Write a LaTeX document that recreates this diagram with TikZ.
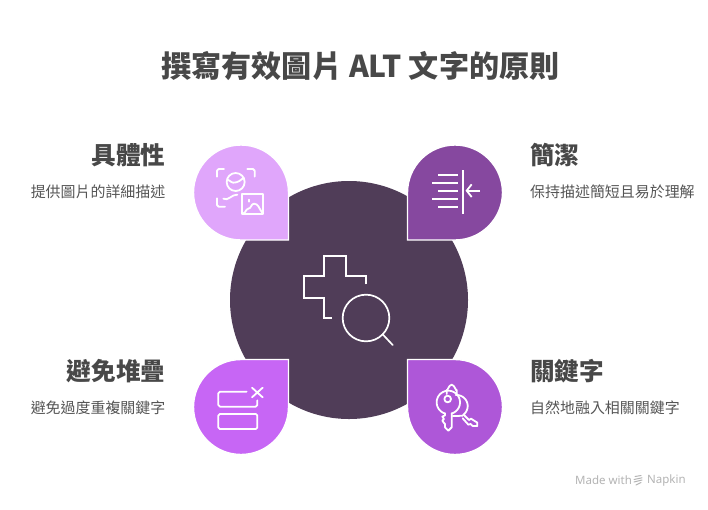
\documentclass[tikz,border=0pt]{standalone}
\usepackage{fontspec}
\setmainfont{Noto Sans CJK TC}
\newfontfamily\latinsans{Noto Sans}
\definecolor{hub}{HTML}{503D58}
\definecolor{dropa}{HTML}{E0A6FB}
\definecolor{dropb}{HTML}{86489F}
\definecolor{dropc}{HTML}{C766F5}
\definecolor{dropd}{HTML}{AE57D8}
\definecolor{headink}{HTML}{484848}
\definecolor{subink}{HTML}{555555}
\definecolor{markink}{HTML}{B4B4B4}
\tikzset{
  titletext/.style={font=\fontsize{30.1}{32}\selectfont\bfseries, text=headink, inner sep=0pt},
  headtext/.style={font=\fontsize{24.6}{28}\selectfont\bfseries, text=headink, inner sep=0pt},
  subtext/.style={font=\fontsize{14.95}{18}\selectfont, text=subink, inner sep=0pt},
  marktext/.style={font=\latinsans\fontsize{11.5}{14}\selectfont, text=markink, inner sep=0pt},
  icon/.style={draw=white, line width=1.8pt, line cap=round, line join=round},
  thinicon/.style={draw=white, line width=1.7pt},
  zoomed/.style={x=0.33333pt, y=-0.33333pt},
}
\newcommand{\dropshape}[5]{%
  \path[shift={(#1,#2)},xscale=#3,yscale=#4,fill=#5,draw=white,line width=1.4pt,line join=miter]
    (47.5,47.5) -- (0,47.5)
    .. controls (-26.2,47.5) and (-47.5,26.2) .. (-47.5,0)
    .. controls (-47.5,-26.2) and (-26.2,-47.5) .. (0,-47.5)
    .. controls (26.2,-47.5) and (47.5,-26.2) .. (47.5,0) -- cycle;}
\begin{document}
\begin{tikzpicture}[x=1pt,y=-1pt]
\useasboundingbox (0,0) rectangle (708,509);
\fill[white] (0,0) rectangle (708,509);
\node[titletext] (title) at (360.5,66) {撰寫有效圖片 ALT 文字的原則};
\fill[hub] (349,300) circle[radius=119];
\dropshape{241}{192.5}{1}{1}{dropa}
\dropshape{455}{192.5}{-1}{1}{dropb}
\dropshape{241}{407}{1}{-1}{dropc}
\dropshape{455}{407}{-1}{-1}{dropd}
\node[headtext,anchor=east] (ha) at (165.5,155) {具體性};
\node[subtext,anchor=east] (sa) at (165.5,191.5) {提供圖片的詳細描述};
\node[headtext,anchor=west] (hb) at (530,155) {簡潔};
\node[subtext,anchor=west] (sb) at (530,191.5) {保持描述簡短且易於理解};
\node[headtext,anchor=east] (hc) at (165.5,371) {避免堆疊};
\node[subtext,anchor=east] (sc) at (165.5,407.5) {避免過度重複關鍵字};
\node[headtext,anchor=west] (hd) at (530,371) {關鍵字};
\node[subtext,anchor=west] (sd) at (530,407.5) {自然地融入相關關鍵字};
\node[marktext,anchor=west] (ma) at (575,480.5) {Made with};
\node[marktext,anchor=west] (mb) at (647,480.5) {Napkin};
\draw[markink,line width=1pt,line cap=round]
  (635,476.5)--(641,475.5) (634,479.5)--(642,477.8) (634,482)--(642,480) (636,485)--(641,482.5);
% hub icon
\begin{scope}[shift={(290,245)},zoomed]
\draw[thinicon,line cap=butt,line join=miter] (228,118)--(228,93)--(168,93)--(168,34)--(101,34)--(101,93)--(41,93)--(41,160)--(101,160)--(101,218)--(127,218);
\draw[thinicon] (228,219) circle[radius=70];
\draw[thinicon,line cap=round] (279,269)--(308,300);
\end{scope}
% icon a
\begin{scope}[shift={(180,135)},zoomed]
\draw[icon] (111,125)--(111,107) to[out=-90,in=180] (116,102)--(132,102);
\draw[icon] (202,102)--(219,102) to[out=0,in=-90] (224,107)--(224,125);
\draw[icon] (111,190)--(111,210) to[out=90,in=180] (116,215)--(135,215);
\draw[icon] (167,141) circle[radius=27];
\draw[icon] (141,137) to[out=60,in=180] (160,143) to[out=0,in=220] (191,128);
\draw[icon] (130,191) to[out=-30,in=175] (172,179);
\draw[icon] (186,178) rectangle (248,238);
\draw[icon] (190,234) to[out=-60,in=180] (205,221) to[out=0,in=180] (222,206) to[out=0,in=130] (246,232);
\draw[icon] (208,194)--(208,200);
\end{scope}
% icon b
\begin{scope}[shift={(400,135)},zoomed]
\draw[icon,line cap=butt] (115,119)--(173,119) (97,143)--(173,143) (115,167)--(173,167) (97,191)--(173,191) (115,215)--(173,215);
\draw[icon,line cap=butt] (188,105)--(188,236);
\draw[icon,line cap=butt] (240,167)--(201,167);
\draw[icon,line cap=butt,line join=miter] (215,148)--(200,167)--(215,186);
\end{scope}
% icon c
\begin{scope}[shift={(180,350)},zoomed]
\draw[icon] (200,125)--(120,125) to[out=180,in=-90] (115,130)--(115,165) to[out=90,in=180] (120,170)--(227,170) to[out=0,in=90] (232,165)--(232,151);
\draw[icon,rounded corners=1.5pt] (115,192) rectangle (232,237);
\draw[icon] (216,113)--(248,142) (248,113)--(216,142);
\end{scope}
% icon d
\begin{scope}[shift={(400,350)},zoomed]
\draw[icon] (143,147) circle[radius=10];
\draw[icon] plot[smooth,domain=73:-253,samples=40] ({145+35*cos(\x)},{157+35*sin(\x)});
\draw[icon] (135,190)--(135,196)--(127,200)--(132,207)--(127,212)--(132,219)--(135,222)--(135,232)--(145,242)--(155,232)--(155,190);
\draw[icon] (140,132)--(140,120) to[out=-90,in=180] (155,104) to[out=0,in=-90] (170,120)--(170,135);
\draw[icon] plot[smooth,domain=-95:55,samples=30] ({170+33*cos(\x)},{168+33*sin(\x)});
\draw[icon] (191,194)--(207,210)--(213,206)--(232,218)--(232,228)--(218,228)--(212,222)--(205,224)--(188,205);
\draw[icon] (158,198) to[out=15,in=200] (188,197);
\end{scope}
\end{tikzpicture}
\end{document}
